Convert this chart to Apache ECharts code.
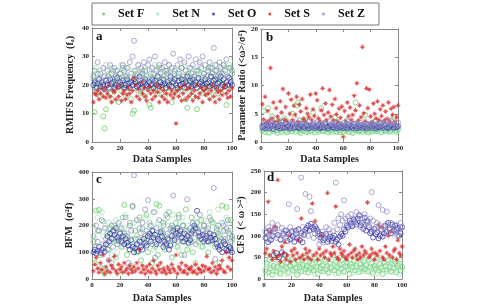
<!DOCTYPE html>
<html>
<head>
<meta charset="utf-8">
<script src="https://cdn.jsdelivr.net/npm/echarts@6/dist/echarts.min.js"></script>
<style>
  html, body { margin: 0; padding: 0; background: #fff; }
  #main { width: 478px; height: 304px; }
</style>
</head>
<body>
<div id="main"></div>
<script>
// 五组数据的名字和颜色
const setNames = ['Set F', 'Set N', 'Set O', 'Set S', 'Set Z'];
const setColors = ['#5cc85c', '#9fe0b0', '#2b2ba6', '#d42020', '#8c86c2'];

// ---- a: RMIFS Frequency ----
const aF = [22,10.5,18,24,21,16,19,9,4.8,11.5, 20,23,17,15,25,21,19,22,14,24, 18,26,20,16,23,19,21,15,10,11, 22,24,18,20,17,25,21,16,23,19, 13,12,20,24,18,22,17,26,21,19, 23,16,20,25,18,22,14,21,24,19, 17,23,20,26,18,22,15,12,24,21, 19,16,23,20,11.5,25,18,22,17,24, 21,19,26,16,23,20,18,25,22,17, 24,19,21,27,18,13,23,20,26,24];
const aN = [24,20,26,19,22,25,18,23,21,27, 20,24,19,26,22,18,25,21,23,20, 27,19,22,24,18,26,21,23,20,25, 22,19,27,21,24,18,23,26,20,22, 25,19,23,21,27,20,24,18,26,22, 21,25,19,23,27,20,22,24,18,26, 23,21,25,19,22,27,20,24,18,23, 26,21,22,25,19,24,27,20,23,21, 18,25,22,26,20,24,19,23,27,21, 25,22,20,26,24,19,23,27,21,24];
const aO = [20,21,19,20.5,22,19.5,21,20,18.5,21.5, 20,19,22,20.5,21,19,20,22.5,19.5,21, 20,21.5,19,20,22,20.5,19,21,20,22, 21,19.5,20,23,20.5,19,21,22,20,19.5, 21,20,22,19,21.5,20,23,19.5,21,20, 22,20.5,19,21,20,23,19.5,21,22,20, 19,21.5,20,22,20.5,19,21,23,20,21.5, 19.5,22,20,21,19,22.5,20.5,21,20,19, 22,20.5,21,19.5,23,20,21.5,22,19,20.5, 21,23,20,22,19.5,21,20,22.5,21,20];
const aS = [14,17,16.5,18,15,17,19,16,18.5,15.5, 17,20,16,14,18,17.5,15,19,16,20, 14.5,17,18,15,16.5,19,17,14,18,22.5, 20,16,18.5,15,21,17,19,16,14.5,18, 19.5,17,15,18,16,20,17.5,14,19,16, 18,15,17,14,19,16.5,18,15.5,17,6.5, 18,16,19,14.5,17,20,15,18.5,16,19, 17,14.5,18,16,20,15.5,17,19,14,18, 16.5,19,17,15,18,20,16,14,19,17.5, 15,18,16.5,19,20,17,15.5,18,16,19];
const aZ = [23,25,21,28,22,24,20,26,23,22, 25,21,27,24,22,26,23,25,21,24, 22,27,25,23,26,21,28,24,30,35.5, 25,23,27,22,26,24,28,25,21,27, 29,24,26,22,30,25,23,27,24,26, 22,28,25,24,27,23,26,31,25,22, 27,24,29,26,23,28,25,22,30,26, 24,27,23,29,25,22,28,26,30,24, 27,23,25,28,26,24,33,27,25,23, 28,26,24,27,25,29,23,26,22,25];

// ---- b: Parameter Ratio ----
const bF = [2.0,5.5,1.8,2.4,6.0,1.7,2.2,4.6,1.9,2.6, 2.1,1.6,3.8,2.3,1.8,2.5,4.2,2.0,1.7,2.8, 2.2,1.9,5.0,2.4,1.8,6.5,7.0,2.1,1.6,2.5, 2.0,4.0,1.8,2.3,2.7,1.9,2.1,5.2,1.7,2.4, 2.2,1.8,2.6,6.0,2.0,1.9,3.5,2.3,1.7,2.1, 2.5,1.8,2.2,4.4,1.9,2.6,2.0,1.7,2.3,1.8, 2.4,2.1,3.9,1.8,2.5,2.0,1.6,2.2,7.0,2.4, 1.9,2.1,2.6,1.8,2.3,4.8,2.0,1.7,2.5,2.2, 1.8,2.4,2.0,3.6,1.9,2.3,2.6,1.7,2.1,2.4, 1.9,2.2,2.7,1.8,2.0,2.5,4.5,2.1,1.8,2.3];
const bN = [2.0,2.4,1.8,3.0,2.2,1.6,2.6,4.5,2.0,2.3, 1.9,2.7,2.1,3.2,1.7,2.4,2.0,2.8,1.8,2.5, 2.2,3.5,1.9,2.3,2.7,2.0,4.0,1.8,2.4,2.1, 2.6,1.9,2.2,3.0,1.7,2.5,2.0,2.8,2.3,1.8, 2.4,2.1,3.3,1.9,2.6,2.0,2.2,1.8,2.7,2.3, 1.9,2.5,2.1,2.8,1.7,2.4,3.6,2.0,2.2,1.8, 2.6,2.0,2.4,1.9,2.8,2.2,1.7,2.5,3.1,2.0, 2.3,1.8,2.6,2.1,2.4,1.9,2.7,2.2,1.8,2.5, 2.0,2.3,1.9,2.6,2.1,3.4,1.8,2.4,2.0,2.7, 2.2,1.9,2.5,2.1,3.8,2.3,1.8,2.6,2.0,2.4];
const bO = [2.6,2.9,2.4,3.1,2.7,2.5,3.0,2.8,2.3,2.9, 3.2,2.6,2.8,2.4,3.0,2.7,2.5,3.3,2.6,2.9, 2.4,2.8,3.1,2.5,2.7,3.0,2.6,2.4,2.9,3.2, 2.7,2.5,3.0,2.8,2.4,2.9,2.6,3.1,2.5,2.8, 2.7,3.0,2.4,2.6,2.9,2.5,3.2,2.7,2.4,2.8, 3.0,2.6,2.5,2.9,2.7,2.4,3.1,2.6,2.8,2.5, 2.9,2.7,2.4,3.0,2.6,2.8,2.5,3.2,2.7,2.4, 2.9,2.6,3.0,2.5,2.8,2.7,2.4,3.1,2.6,2.9, 2.5,2.8,3.0,2.4,2.7,2.6,3.3,2.8,2.5,2.9, 3.1,2.6,2.4,2.8,3.0,2.7,2.5,2.9,2.6,2.8];
const bS = [6.7,4.0,8.0,3.5,5.5,3.8,13.1,4.2,7.0,3.6, 6.0,4.5,3.8,7.2,5.2,9.4,4.0,6.2,3.7,8.6, 5.0,7.5,3.9,6.4,4.8,8.0,3.6,6.6,5.4,7.6, 4.1,3.8,6.0,5.0,4.4,8.4,3.9,5.8,4.6,8.6, 7.4,4.2,3.7,5.6,9.5,4.8,6.8,3.9,5.2,9.2, 4.5,6.6,3.8,7.6,4.9,3.6,5.9,4.3,6.3,0.9, 5.5,3.7,7.0,4.6,6.1,3.9,4.8,8.2,5.6,10.4, 3.8,6.5,4.4,16.8,5.1,3.7,9.5,6.0,9.3,4.5, 3.6,6.8,5.0,4.2,7.2,3.9,5.8,4.6,6.5,3.8, 5.4,4.1,7.0,3.7,5.9,4.8,6.2,3.6,4.4,6.5];
const bZ = [3.0,2.6,3.5,2.8,3.2,2.5,3.7,2.9,3.3,2.7, 2.8,3.4,2.6,3.1,2.9,3.6,2.7,3.0,3.3,2.5, 3.1,2.8,3.5,2.7,3.2,2.9,3.0,3.8,2.6,3.3, 2.9,3.4,2.7,3.1,3.6,2.8,3.0,2.6,3.3,2.9, 3.5,2.7,3.2,3.0,2.8,3.4,2.6,3.1,2.9,3.7, 2.7,3.3,3.0,2.8,3.5,2.6,3.2,2.9,3.0,2.7, 3.4,2.8,3.1,3.6,2.7,3.0,3.3,2.6,3.2,2.9, 3.0,3.5,2.7,3.1,2.8,3.4,2.9,3.2,2.6,3.0, 3.3,2.8,3.6,2.7,3.1,2.9,3.4,3.0,2.6,3.2, 2.9,3.5,2.8,3.1,3.7,2.7,3.3,3.0,2.8,3.4];

// ---- c: BFM ----
const cF = [140,60,256,180,258,90,40,215,20,130, 170,110,190,60,150,200,80,140,30,175, 120,230,277,160,90,140,210,50,274,120, 180,100,150,230,70,190,130,160,240,100, 210,150,60,180,120,280,90,274,170,140, 200,110,160,230,250,130,80,190,150,210, 120,240,170,90,200,140,260,110,180,150, 230,100,190,60,210,140,170,220,120,200, 150,180,100,230,140,210,160,120,190,170, 60,150,274,200,130,268,180,110,220,150];
const cN = [200,150,120,230,180,100,250,160,40,190, 130,210,170,90,180,140,220,100,160,200, 150,120,190,240,170,110,200,150,130,210, 180,160,100,220,140,190,170,230,120,160, 200,140,180,110,250,160,210,130,190,170, 140,220,160,120,200,180,150,240,130,190, 170,110,210,160,230,140,180,200,120,170, 150,210,190,140,230,160,200,120,180,220, 160,140,200,250,170,130,210,150,190,260, 140,180,120,200,160,230,150,210,180,140];
const cO = [100,110,95,105,120,98,108,115,102,130, 160,140,170,150,180,165,190,155,145,170, 140,160,130,150,135,125,110,145,120,100, 115,130,105,140,120,110,150,135,125,160, 170,140,180,155,165,130,150,145,175,160, 120,140,130,150,110,125,160,180,145,170, 190,165,180,155,140,170,150,160,135,145, 170,180,200,190,255,175,160,150,165,140, 150,160,140,170,155,145,165,150,130,120, 110,125,100,140,130,110,105,120,115,100];
const cS = [30,55,80,40,25,60,35,90,20,45, 30,70,25,50,40,85,30,20,55,35, 45,25,60,30,40,20,50,35,25,45, 30,60,40,110,25,50,35,20,45,30, 55,25,40,70,30,20,50,35,60,25, 40,30,20,45,35,25,55,40,30,90, 20,45,35,60,25,30,50,20,40,35, 45,25,30,55,20,40,35,25,50,30, 45,85,35,40,25,60,30,45,20,35, 50,40,70,30,25,100,45,80,35,70];
const cZ = [160,120,200,140,180,100,220,130,190,150, 110,70,140,200,120,180,160,130,210,150, 190,140,170,230,160,60,200,180,270,388, 150,220,130,190,170,210,140,260,180,295, 160,200,130,250,80,190,140,220,160,180, 210,130,240,170,150,190,200,312,160,180, 140,230,170,150,200,90,180,298,160,190, 140,210,170,130,190,160,240,150,180,200, 170,140,190,160,220,150,340,75,180,200, 160,140,210,180,150,190,220,170,140,160];

// ---- d: CFS ----
const dF = [20,35,15,45,25,10,30,50,18,28, 40,12,33,22,55,26,38,15,30,45, 20,35,25,10,42,28,18,33,50,22, 30,15,40,25,35,20,48,28,12,38, 25,32,18,45,22,30,15,36,26,55, 20,40,28,14,33,24,45,18,30,38, 22,12,35,28,42,20,30,50,16,34, 26,40,22,32,18,45,28,36,14,30, 24,48,20,35,26,12,38,30,22,44, 28,18,34,25,40,16,30,36,20,28];
const dN = [10,28,40,22,55,30,18,35,25,45, 15,32,26,48,20,38,12,30,42,24, 36,18,50,28,14,34,45,22,30,16, 40,26,55,20,34,28,12,44,24,36, 18,50,30,22,40,14,35,26,45,20, 32,12,38,28,50,22,36,16,42,26, 30,45,20,38,14,32,26,48,22,36, 18,30,44,24,52,28,16,38,30,22, 44,14,32,26,50,20,36,28,18,42, 24,38,16,30,46,22,34,12,40,26];
const dO = [95,108,85,112,90,100,55,118,60,102, 50,92,62,105,56,112,88,104,92,110, 98,86,112,96,115,90,106,85,102,114, 118,124,112,128,120,115,122,116,110,104, 96,102,90,94,104,86,92,98,88,95, 100,86,92,80,98,104,100,115,110,124, 120,135,128,122,138,132,126,140,148,125, 130,116,142,112,134,120,106,110,96,116, 104,108,94,100,114,98,106,124,110,130, 115,106,126,112,124,114,118,100,106,120];
const dS = [60,70,179,55,110,45,65,120,50,229, 55,40,75,60,85,45,55,100,40,65, 55,70,45,60,90,50,140,55,45,70, 60,50,65,45,175,55,134,60,45,70, 55,100,60,50,65,199,45,60,55,75, 60,168,50,45,70,60,55,65,50,45, 55,80,60,50,65,70,55,45,60,50, 75,55,65,60,177,50,55,70,60,45, 60,55,125,65,120,50,45,75,60,100, 55,110,50,65,70,45,90,60,55,75];
const dZ = [110,95,120,90,105,130,100,115,95,125, 108,90,118,100,112,95,105,173,120,100, 110,95,105,162,115,100,235,120,105,197, 110,100,190,157,120,95,105,115,100,80, 90,110,85,95,120,100,115,105,95,110, 130,223,115,140,125,150,135,182,140,120, 145,130,150,125,135,140,155,130,145,120, 140,125,150,135,130,125,140,201,135,115, 120,130,171,125,115,160,120,110,156,125, 115,130,105,120,110,125,100,115,130,120];

// 每个子图：数据、y 轴范围和名字
const panels = [
    { letter: 'a', sets: [aF, aN, aO, aS, aZ], yMax: 40, yStep: 10, yName: 'RMIFS Frequency  (fₐ)', nameGap: 17 },
    { letter: 'b', sets: [bF, bN, bO, bS, bZ], yMax: 20, yStep: 5, yName: 'Parameter Ratio (<ω>/σ²)', nameGap: 12 },
    { letter: 'c', sets: [cF, cN, cO, cS, cZ], yMax: 400, yStep: 100, yName: 'BFM  (σ²f)', nameGap: 17 },
    { letter: 'd', sets: [dF, dN, dO, dS, dZ], yMax: 250, yStep: 50, yName: 'CFS  (< ω >²)', nameGap: 17 }
];

const grids = [
    { left: 92, top: 28, width: 140, height: 114 },
    { left: 261, top: 29, width: 137, height: 113 },
    { left: 92, top: 172, width: 140, height: 111 },
    { left: 264, top: 171, width: 138, height: 111 }
];
const letterPos = [[96, 30], [266, 31], [96, 173], [267, 171]];

const serif = '"Liberation Serif", "DejaVu Serif", serif';
const frameColor = '#888';
// 星号（*）形状
const starPath = 'path://M-10,-1.5L10,-1.5L10,1.5L-10,1.5Z M-1.5,-10L1.5,-10L1.5,10L-1.5,10Z M-7.1,-5L-5,-7.1L7.1,5L5,7.1Z M5,-7.1L7.1,-5L-5,7.1L-7.1,5Z';

function toPoints(arr){
    let pts = [];
    for(let i = 0; i < arr.length; i++){
        pts.push([i + 1, arr[i]]);
    }
    return pts;
}

function tickLabel(){
    return { fontFamily: serif, fontWeight: 'bold', fontSize: 7, color: '#222', margin: 3 };
}

let xAxes = [], yAxes = [], series = [], graphics = [];
for(let p = 0; p < panels.length; p++){
    let pan = panels[p];
    // 主坐标轴（下、左）
    xAxes.push({
        gridIndex: p, type: 'value', min: 0, max: 100, interval: 20,
        name: 'Data Samples', nameLocation: 'middle', nameGap: p < 2 ? 12 : 14,
        nameTextStyle: { fontFamily: serif, fontWeight: 'bold', fontSize: 10, color: '#222' },
        axisLine: { lineStyle: { color: frameColor } },
        axisTick: { inside: true, length: 3, lineStyle: { color: frameColor } },
        axisLabel: tickLabel(),
        splitLine: { show: false }
    });
    // 上边框
    xAxes.push({
        gridIndex: p, type: 'value', position: 'top', min: 0, max: 100, interval: 20,
        axisLine: { onZero: false, lineStyle: { color: frameColor } },
        axisTick: { inside: true, length: 3, lineStyle: { color: frameColor } },
        axisLabel: { show: false }, splitLine: { show: false }
    });
    yAxes.push({
        gridIndex: p, type: 'value', min: 0, max: pan.yMax, interval: pan.yStep,
        name: pan.yName, nameLocation: 'middle', nameGap: pan.nameGap,
        nameTextStyle: { fontFamily: serif, fontWeight: 'bold', fontSize: 10, color: '#222' },
        axisLine: { show: true, lineStyle: { color: frameColor } },
        axisTick: { show: true, inside: true, length: 3, lineStyle: { color: frameColor } },
        axisLabel: tickLabel(),
        splitLine: { show: false }
    });
    // 右边框
    yAxes.push({
        gridIndex: p, type: 'value', position: 'right', min: 0, max: pan.yMax, interval: pan.yStep,
        axisLine: { show: true, onZero: false, lineStyle: { color: frameColor } },
        axisTick: { show: true, inside: true, length: 3, lineStyle: { color: frameColor } },
        axisLabel: { show: false }, splitLine: { show: false }
    });

    for(let s = 0; s < setNames.length; s++){
        let isStar = (s === 3);
        series.push({
            type: 'scatter',
            name: setNames[s],
            xAxisIndex: p * 2,
            yAxisIndex: p * 2,
            symbol: isStar ? starPath : 'circle',
            symbolSize: 5,
            itemStyle: isStar
                ? { color: setColors[s] }
                : { color: 'rgba(0,0,0,0)', borderColor: setColors[s], borderWidth: 0.9 },
            data: toPoints(pan.sets[s]),
            silent: true
        });
    }

    graphics.push({
        type: 'text', left: letterPos[p][0], top: letterPos[p][1],
        style: { text: pan.letter, font: 'bold 13px ' + serif, fill: '#111' }
    });
}

// 图例：小圆点
let legendData = [];
for(let s = 0; s < setNames.length; s++){
    legendData.push({
        name: setNames[s],
        icon: 'circle',
        itemStyle: { color: setColors[s], borderWidth: 0, opacity: 0.8 }
    });
}

let myChart = echarts.init(document.getElementById('main'));
myChart.setOption({
    animation: false,
    backgroundColor: '#fff',
    legend: {
        data: legendData,
        left: 92, top: 3,
        padding: [5, 14, 5, 10],
        itemGap: 12, itemWidth: 3, itemHeight: 3,
        borderColor: '#777', borderWidth: 1,
        textStyle: { fontFamily: serif, fontWeight: 'bold', fontSize: 12, color: '#111', padding: [0, 0, 0, 8] }
    },
    grid: grids,
    xAxis: xAxes,
    yAxis: yAxes,
    series: series,
    graphic: graphics
});
</script>
</body>
</html>
